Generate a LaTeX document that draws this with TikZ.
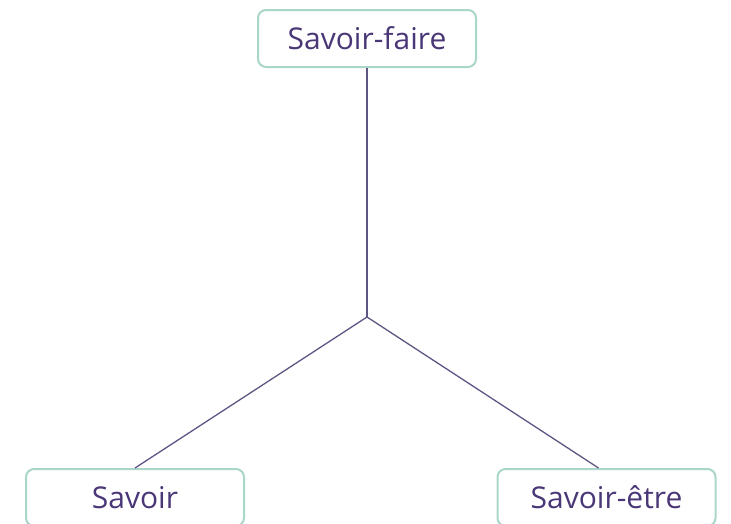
\documentclass[tikz,border=0pt]{standalone}
\usepackage{fontspec}
\setmainfont{Open Sans}
\definecolor{boxline}{HTML}{A9D6C9}
\definecolor{txtpurple}{HTML}{4A3777}
\definecolor{linkline}{HTML}{5F5582}
\begin{document}
\begin{tikzpicture}[x=1pt, y=-1pt,
        box/.style={draw=boxline, line width=2pt, rounded corners=8pt, fill=white,
            minimum width=218pt, minimum height=57pt, inner sep=0pt,
            text=txtpurple, font=\fontsize{30}{34}\selectfont},
        link/.style={draw=linkline, line width=1.3pt}]
        \useasboundingbox (0, 0) rectangle (731, 523);
        \node[box] (faire) at (367, 38.5) {Savoir-faire};
        \node[box] (savoir) at (135, 497.5) {Savoir};
        \node[box] (etre) at (606.5, 497.5) {Savoir-être};
        \coordinate (mid) at (367, 317);
        \draw[link] (faire.south) -- (mid);
        \draw[link] (mid) -- (savoir.north);
        \draw[link] (mid) -- ([xshift=-8pt]etre.north);
    \end{tikzpicture}
\end{document}
